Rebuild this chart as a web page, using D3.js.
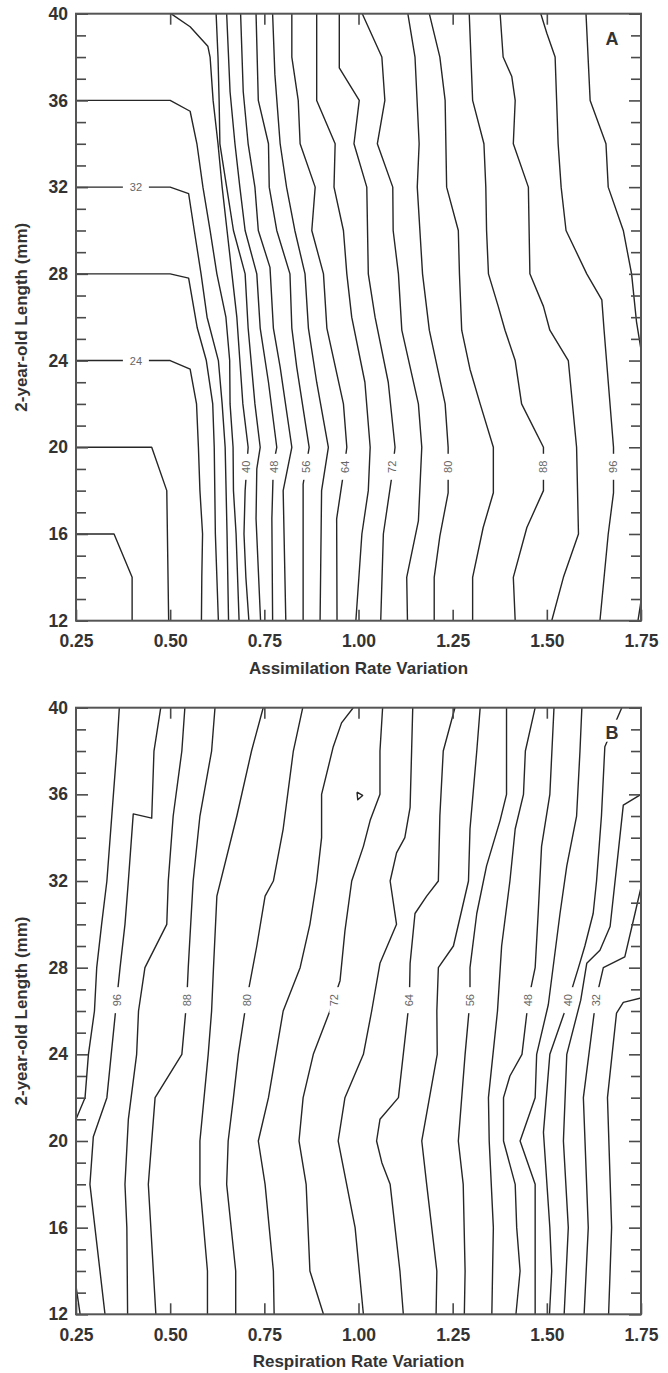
<!DOCTYPE html>
<html>
<head>
<meta charset="utf-8">
<script src="https://cdn.jsdelivr.net/npm/d3@7"></script>
<style>
  body { margin: 0; background: #fff; }
  svg text { font-family: "Liberation Sans", Arial, sans-serif; }
</style>
</head>
<body>
<svg id="chart"></svg>
<script>
'use strict';

// axis ticks
var xTicks = [0.25, 0.50, 0.75, 1.00, 1.25, 1.50, 1.75];
var yTicks = [12, 16, 20, 24, 28, 32, 36, 40];
var yMinor = [13,14,15,17,18,19,21,22,23,25,26,27,29,30,31,33,34,35,37,38,39];

// Panel A: contour levels and their traced lines [x, y]
var levelsA = [16, 20, 24, 28, 32, 36, 40, 44, 48, 52, 56, 60, 64, 68, 72, 76, 80, 84, 88, 92, 96, 100, 104];
var linesA = [
  [[0.25,16],[0.351,16],[0.399,14],[0.399,12]],
  [[0.25,20],[0.451,20],[0.491,18],[0.496,12]],
  [[0.25,24],[0.50,24],[0.553,23.6],[0.570,22],[0.575,20],[0.579,18],[0.586,16],[0.584,14],[0.583,12]],
  [[0.25,28],[0.50,28],[0.549,27.8],[0.572,25.5],[0.596,24],[0.613,22],[0.617,20],[0.620,16],[0.628,12]],
  [[0.25,32],[0.50,32],[0.549,31.7],[0.564,30],[0.582,28],[0.598,26],[0.628,24],[0.638,22],[0.646,20],[0.651,16],[0.655,12]],
  [[0.25,36],[0.50,36],[0.553,35.5],[0.571,34],[0.587,32],[0.606,30],[0.624,28],[0.648,26],[0.658,24],[0.659,22],[0.667,20],[0.668,18],[0.675,16],[0.683,12]],
  [[0.502,40],[0.553,39.4],[0.600,38.5],[0.606,38],[0.614,36],[0.627,34],[0.638,32],[0.651,30],[0.664,28],[0.677,26],[0.685,24],[0.693,22],[0.707,20],[0.699,18],[0.696,16],[0.701,14],[0.709,12]],
  [[0.622,40],[0.627,38],[0.630,36],[0.632,34],[0.650,32],[0.668,30],[0.699,28],[0.707,25.5],[0.725,22],[0.739,20],[0.730,19],[0.728,16.7],[0.740,12]],
  [[0.650,40],[0.659,36.4],[0.672,34],[0.685,32],[0.699,30],[0.730,28],[0.739,25.5],[0.761,23],[0.783,20],[0.774,19.2],[0.770,16.7],[0.772,12]],
  [[0.687,40],[0.694,36.4],[0.707,34],[0.725,32],[0.734,30],[0.765,28.3],[0.774,25.5],[0.792,23.7],[0.823,20],[0.800,18],[0.807,12]],
  [[0.728,40],[0.734,36],[0.761,34],[0.763,32],[0.783,30],[0.818,28],[0.823,25.5],[0.836,23.7],[0.869,20],[0.853,18.3],[0.853,12]],
  [[0.772,40],[0.778,37.2],[0.792,34],[0.809,32],[0.831,30],[0.858,28],[0.867,25.5],[0.889,23],[0.920,20],[0.902,18],[0.898,12]],
  [[0.823,40],[0.823,38],[0.840,36],[0.845,34],[0.885,32],[0.876,30],[0.907,28],[0.916,25.5],[0.960,22],[0.969,20],[0.960,18.8],[0.942,16.7],[0.943,12]],
  [[0.889,40],[0.889,36],[0.938,34],[0.935,32],[0.960,30],[0.969,28],[0.982,26],[1.017,23],[1.031,20],[1.026,18],[1.009,16],[0.993,12]],
  [[0.949,40],[0.949,37.5],[1.002,36],[0.988,34],[1.022,32],[1.026,28],[1.044,26],[1.079,23],[1.097,20],[1.088,18.6],[1.066,16],[1.059,12]],
  [[1.010,40],[1.062,38],[1.070,36],[1.050,34],[1.091,32],[1.092,30],[1.106,28],[1.115,25.4],[1.159,22],[1.168,20],[1.159,16.6],[1.128,14],[1.130,12]],
  [[1.131,40],[1.150,38],[1.161,34],[1.156,32],[1.170,28],[1.188,25.4],[1.230,22],[1.238,20],[1.238,17.9],[1.216,15.9],[1.201,14],[1.201,12]],
  [[1.188,40],[1.216,38],[1.230,36],[1.234,32],[1.265,30],[1.268,28],[1.274,25.4],[1.296,23.6],[1.323,22],[1.358,20],[1.358,17.9],[1.331,16.3],[1.303,14],[1.303,12]],
  [[1.294,40],[1.303,36],[1.333,34],[1.338,32],[1.340,30],[1.345,28],[1.371,26.5],[1.389,25.4],[1.416,24],[1.433,22],[1.491,20],[1.491,18],[1.447,16.3],[1.411,14],[1.416,12]],
  [[1.376,40],[1.384,38],[1.407,37.1],[1.416,36],[1.411,34],[1.451,32],[1.455,28],[1.491,26.5],[1.508,25.4],[1.557,24],[1.579,20],[1.584,16],[1.544,14],[1.513,12]],
  [[1.484,40],[1.500,39.1],[1.522,38],[1.526,36],[1.530,34],[1.538,32],[1.551,30],[1.606,28],[1.646,26.8],[1.652,25.4],[1.677,20],[1.677,17.9],[1.663,16],[1.641,12]],
  [[1.604,40],[1.615,36],[1.657,34],[1.663,32],[1.703,30],[1.725,28],[1.738,25.8],[1.75,24.5]],
  [[1.742,12],[1.75,12.9]]
];
// contour labels: text, x, y, angle
var labelsA = [
  ['32', 0.409, 32, 0], ['24', 0.409, 24, 0],
  ['40', 0.702, 19.1, -90], ['48', 0.775, 19.1, -90], ['56', 0.861, 19.1, -90],
  ['64', 0.964, 19.1, -90], ['72', 1.090, 19.1, -90], ['80', 1.239, 19.1, -90],
  ['88', 1.491, 19.1, -90], ['96', 1.677, 19.1, -90]
];

// Panel B
var levelsB = [104, 100, 96, 92, 88, 84, 80, 76, 72, 72, 68, 64, 60, 56, 52, 48, 44, 40, 36, 32, 28];
var linesB = [
  [[0.25,13.3],[0.261,12]],
  [[0.365,40],[0.358,38],[0.345,35],[0.332,32],[0.318,30],[0.305,28],[0.299,26],[0.283,24],[0.274,22],[0.25,21]],
  [[0.475,40],[0.457,38],[0.451,34.9],[0.402,35.1],[0.389,32],[0.380,30],[0.367,28],[0.358,26.5],[0.332,22],[0.296,20.2],[0.287,18],[0.305,15.3],[0.327,12]],
  [[0.539,40],[0.531,38],[0.508,35],[0.495,32],[0.491,30],[0.433,28],[0.416,26],[0.411,24],[0.389,21],[0.380,18],[0.385,16],[0.387,12]],
  [[0.619,40],[0.610,38],[0.579,35],[0.561,32],[0.548,28],[0.544,26.5],[0.531,24],[0.460,22],[0.442,18],[0.452,15],[0.462,12]],
  [[0.747,40],[0.716,38],[0.677,35],[0.624,31.3],[0.615,28],[0.610,26],[0.601,24],[0.579,20],[0.579,18],[0.599,14],[0.599,12]],
  [[0.852,40],[0.827,38],[0.800,34.4],[0.774,32],[0.752,31.3],[0.730,29],[0.703,26.5],[0.681,24],[0.668,22],[0.654,20],[0.650,18],[0.674,14],[0.674,12]],
  [[0.986,40],[0.955,39.3],[0.933,38.2],[0.902,36],[0.902,34],[0.889,32],[0.871,30],[0.845,28],[0.800,26],[0.761,22],[0.734,20],[0.752,18],[0.774,14],[0.776,12]],
  [[1.064,40],[1.057,38],[1.057,36],[1.031,34.8],[1.013,33.6],[0.982,32],[0.964,29.7],[0.951,27.4],[0.924,26],[0.880,24],[0.853,22],[0.842,20],[0.861,18],[0.871,14],[0.907,12]],
  [[0.996,36.1],[1.011,35.95],[0.998,35.75],[0.996,36.1]],
  [[1.144,40],[1.141,38],[1.137,35.4],[1.123,34],[1.101,33.3],[1.084,32],[1.101,30],[1.057,28.2],[1.035,26],[1.013,24],[0.964,22],[0.946,20],[0.991,16],[1.013,12]],
  [[1.256,40],[1.225,38],[1.216,35],[1.212,32],[1.181,31.3],[1.150,30.5],[1.137,28.2],[1.135,26.5],[1.106,22],[1.057,21],[1.048,20],[1.062,19],[1.084,18],[1.110,14],[1.119,12]],
  [[1.323,40],[1.314,38],[1.296,34.4],[1.292,32],[1.252,29],[1.212,28],[1.208,26],[1.209,24],[1.168,20],[1.181,18],[1.208,14],[1.206,12]],
  [[1.393,40],[1.393,36],[1.376,34.8],[1.340,32.7],[1.314,30.5],[1.296,28],[1.296,26.5],[1.283,24],[1.265,20],[1.278,18],[1.283,14],[1.281,12]],
  [[1.469,40],[1.443,38],[1.438,36],[1.416,34.4],[1.402,32],[1.380,29],[1.369,26],[1.345,22],[1.347,20],[1.358,16],[1.354,12]],
  [[1.519,40],[1.508,36],[1.486,33.6],[1.477,30.5],[1.469,28],[1.451,26.5],[1.434,24],[1.402,23],[1.385,22],[1.385,20],[1.416,18],[1.420,16],[1.429,14],[1.418,12]],
  [[1.593,40],[1.588,38],[1.579,35],[1.553,32.7],[1.535,30.5],[1.504,26.3],[1.473,24],[1.469,22],[1.429,20],[1.469,18],[1.469,12]],
  [[1.699,40],[1.654,38.2],[1.645,35],[1.632,32],[1.623,30.5],[1.601,29],[1.584,28],[1.554,26.3],[1.508,24],[1.491,20.4],[1.508,16],[1.513,14],[1.507,12]],
  [[1.75,36],[1.703,35.5],[1.690,33.4],[1.668,29.9],[1.641,28.8],[1.606,28.2],[1.590,26.5],[1.553,24],[1.544,20],[1.557,16],[1.546,12]],
  [[1.75,31.7],[1.734,30.5],[1.707,28.5],[1.650,28],[1.630,26.5],[1.597,22],[1.610,16],[1.599,12]],
  [[1.75,26.6],[1.703,26.4],[1.685,25.9],[1.661,22],[1.672,16],[1.664,12]]
];
var labelsB = [
  ['96', 0.360, 26.5, -90], ['88', 0.544, 26.5, -90], ['80', 0.703, 26.5, -90],
  ['72', 0.936, 26.5, -90], ['64', 1.135, 26.5, -90], ['56', 1.296, 26.5, -90],
  ['48', 1.451, 26.5, -90], ['40', 1.557, 26.5, -90], ['32', 1.630, 26.5, -90]
];

var width = 668;
var height = 1373;
var left = 76, right = 641;

var svg = d3.select('#chart')
  .attr('width', width)
  .attr('height', height);

var panels = [
  { name: 'A', top: 13.7, bottom: 620.7, xTitle: 'Assimilation Rate Variation', levels: levelsA, lines: linesA, labels: labelsA },
  { name: 'B', top: 707.7, bottom: 1314.3, xTitle: 'Respiration Rate Variation', levels: levelsB, lines: linesB, labels: labelsB }
];

function drawPanel(p, i) {
  var x = d3.scaleLinear().domain([0.25, 1.75]).range([left, right]);
  var y = d3.scaleLinear().domain([12, 40]).range([p.bottom, p.top]);
  var g = svg.append('g').attr('class', 'panel-' + p.name);

  g.append('clipPath').attr('id', 'clip' + i)
    .append('rect')
    .attr('x', left).attr('y', p.top)
    .attr('width', right - left).attr('height', p.bottom - p.top);

  // contour lines
  var line = d3.line()
    .x(function (d) { return x(d[0]); })
    .y(function (d) { return y(d[1]); });

  var lines = g.append('g').attr('clip-path', 'url(#clip' + i + ')');
  lines.selectAll('path.contour')
    .data(p.lines)
    .enter().append('path')
    .attr('class', 'contour')
    .attr('data-level', function (d, k) { return p.levels[k]; })
    .attr('d', line)
    .attr('fill', 'none')
    .attr('stroke', '#262626')
    .attr('stroke-width', 1.4)
    .attr('stroke-linejoin', 'round');

  // contour labels, with a white gap in the line
  var lab = lines.selectAll('g.clabel')
    .data(p.labels)
    .enter().append('g')
    .attr('class', 'clabel')
    .attr('transform', function (d) {
      return 'translate(' + x(d[1]) + ',' + y(d[2]) + ') rotate(' + d[3] + ')';
    });
  lab.append('rect')
    .attr('x', -13).attr('y', -5)
    .attr('width', 26).attr('height', 10)
    .attr('fill', '#fff');
  lab.append('text')
    .attr('text-anchor', 'middle')
    .attr('dy', '0.36em')
    .attr('font-family', '"DejaVu Sans", sans-serif')
    .attr('font-size', 11)
    .attr('fill', '#666')
    .text(function (d) { return d[0]; });

  // axes with inward ticks
  g.append('g').attr('transform', 'translate(' + left + ',0)')
    .call(d3.axisLeft(y).tickValues(yTicks).tickSize(-12).tickPadding(8).tickFormat(d3.format('d')));
  g.append('g').attr('transform', 'translate(' + left + ',0)')
    .call(d3.axisLeft(y).tickValues(yMinor).tickSize(-10).tickFormat(''));
  g.append('g').attr('transform', 'translate(' + right + ',0)')
    .call(d3.axisRight(y).tickValues(yTicks).tickSize(-12).tickFormat(''));
  g.append('g').attr('transform', 'translate(' + right + ',0)')
    .call(d3.axisRight(y).tickValues(yMinor).tickSize(-10).tickFormat(''));
  g.append('g').attr('transform', 'translate(0,' + p.bottom + ')')
    .call(d3.axisBottom(x).tickValues(xTicks).tickSize(-11).tickPadding(14).tickFormat(d3.format('.2f')));
  g.append('g').attr('transform', 'translate(0,' + p.top + ')')
    .call(d3.axisTop(x).tickValues(xTicks.slice(1, -1)).tickSize(-11).tickFormat(''));

  g.selectAll('.domain').remove();
  g.selectAll('.tick line').attr('stroke', '#4a4a4a').attr('stroke-width', 1.6);
  g.selectAll('.tick text')
    .attr('font-family', '"Liberation Sans", Arial, sans-serif')
    .attr('font-size', 17.5)
    .attr('font-weight', 'bold')
    .attr('fill', '#333');

  // frame
  g.append('rect')
    .attr('x', left).attr('y', p.top)
    .attr('width', right - left).attr('height', p.bottom - p.top)
    .attr('fill', 'none')
    .attr('stroke', '#555')
    .attr('stroke-width', 2);

  // titles
  g.append('text')
    .attr('x', (left + right) / 2)
    .attr('y', p.bottom + 53)
    .attr('text-anchor', 'middle')
    .attr('font-size', 17)
    .attr('font-weight', 'bold')
    .attr('fill', '#333')
    .text(p.xTitle);
  g.append('text')
    .attr('transform', 'translate(27,' + (p.top + p.bottom) / 2 + ') rotate(-90)')
    .attr('text-anchor', 'middle')
    .attr('font-size', 17)
    .attr('font-weight', 'bold')
    .attr('fill', '#333')
    .text('2-year-old Length (mm)');

  // panel letter on a white patch
  g.append('rect')
    .attr('x', 603).attr('y', p.top + 12)
    .attr('width', 18).attr('height', 22)
    .attr('fill', '#fff');
  g.append('text')
    .attr('x', 612).attr('y', p.top + 31)
    .attr('text-anchor', 'middle')
    .attr('font-size', 18)
    .attr('font-weight', 'bold')
    .attr('fill', '#333')
    .text(p.name);
}

panels.forEach(drawPanel);
</script>
</body>
</html>
